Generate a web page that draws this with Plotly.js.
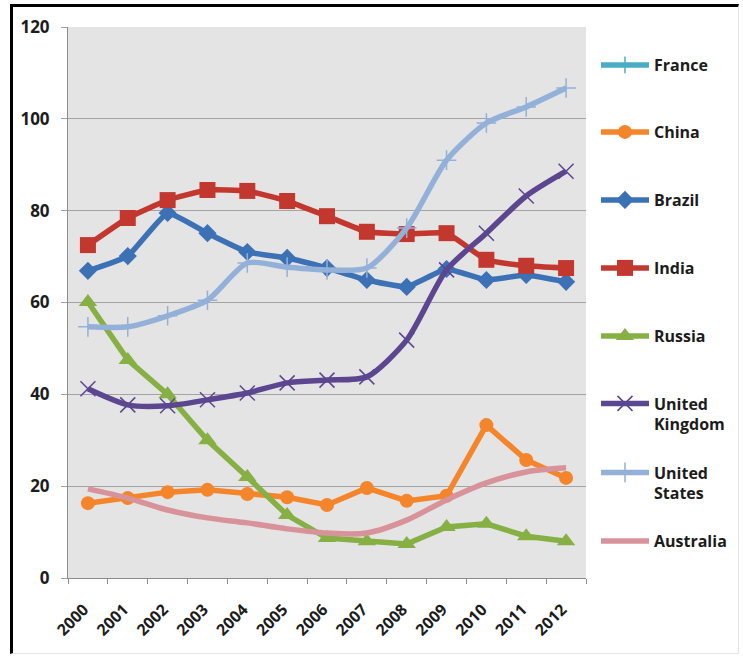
<!DOCTYPE html>
<html>
<head>
<meta charset="utf-8">
<script src="https://cdn.plot.ly/plotly-3.0.1.min.js"></script>
<style>
  html, body { margin: 0; padding: 0; background: #ffffff; }
  #wrap { position: relative; width: 743px; height: 656px; overflow: hidden; }
  #chart { position: absolute; left: 0; top: 0; width: 743px; height: 656px; }
  #frame {
    position: absolute; left: 10px; top: 4px; width: 725px; height: 646px;
    border-left: 3px solid #000; border-top: 3px solid #000;
    border-right: 1px solid #e4e4e4; border-bottom: 1px solid #e4e4e4;
    pointer-events: none;
  }
</style>
</head>
<body>
<div id="wrap">
  <div id="chart"></div>
  <div id="frame"></div>
</div>
<script>
// Years on the category axis
const years = ['2000','2001','2002','2003','2004','2005','2006','2007','2008','2009','2010','2011','2012'];

// Series values per country
const france    = [null,null,null,null,null,null,null,null,null,null,null,null,null];
const china     = [16.3, 17.4, 18.7, 19.2, 18.3, 17.6, 15.9, 19.6, 16.8, 17.9, 33.3, 25.7, 21.8];
const brazil    = [66.9, 70.1, 79.5, 75.1, 71.0, 69.7, 67.5, 64.9, 63.4, 67.3, 64.9, 66.0, 64.5];
const india     = [72.5, 78.4, 82.3, 84.5, 84.3, 82.1, 78.8, 75.4, 74.9, 75.1, 69.3, 68.0, 67.5];
const russia    = [60.1, 47.5, 40.0, 30.0, 22.0, 13.7, 8.7, 8.0, 7.4, 11.1, 11.8, 9.1, 8.0];
const uk        = [41.2, 37.7, 37.5, 38.8, 40.3, 42.5, 43.1, 43.8, 51.8, 67.1, 75.1, 83.2, 88.6];
const us        = [54.7, 54.7, 57.1, 60.5, 68.6, 67.7, 67.1, 67.5, 76.2, 91.0, 99.1, 102.6, 106.7];
const australia = [19.4, 17.4, 14.8, 13.1, 12.0, 10.7, 9.8, 9.8, 12.6, 17.0, 20.7, 23.1, 24.0];

// Legend labels
const names = ['France', 'China', 'Brazil', 'India', 'Russia', 'United<br>Kingdom', 'United<br>States', 'Australia'];

const plotTop = 27, plotBottom = 578;
const toPaperY = px => (plotBottom - px) / (plotBottom - plotTop);

const styles = [
  { color: '#4BACC6', symbol: 'cross-thin', size: 12, lw: 1.5, shape: 'linear' },
  { color: '#F5852A', symbol: 'circle', size: 14, shape: 'linear' },
  { color: '#3D71B6', symbol: 'diamond', size: 14, shape: 'spline', smooth: 0.35 },
  { color: '#C2372E', symbol: 'square', size: 16, shape: 'spline', smooth: 0.4 },
  { color: '#86B043', symbol: 'triangle-up', size: 16, shape: 'linear' },
  { color: '#5D4690', symbol: 'x-thin', size: 15, lw: 1.5, shape: 'spline', smooth: 0.7 },
  { color: '#93B1D8', symbol: 'cross-thin', size: 14, lw: 1.5, shape: 'spline', smooth: 0.7 },
  { color: '#D8929A', symbol: null, shape: 'spline', smooth: 0.9 }
];
const series = [france, china, brazil, india, russia, uk, us, australia];
// vertical pixel centre of each legend entry's text block
const legendCentres = [65, 132, 200, 268, 336, 414, 483, 541];

const font = { family: 'Open Sans, Liberation Sans, sans-serif', size: 16, color: '#1c1c1c', weight: 700 };

const data = series.map((vals, i) => {
  const s = styles[i];
  const line = { color: s.color, width: 5.5, shape: s.shape };
  if (s.shape === 'spline') line.smoothing = s.smooth;
  const tr = {
    type: 'scatter',
    x: years,
    y: vals,
    name: names[i],
    legend: i === 0 ? 'legend' : 'legend' + (i + 1),
    line: line,
    mode: s.symbol ? 'lines+markers' : 'lines',
    cliponaxis: false,
    hoverinfo: 'skip'
  };
  if (s.symbol) {
    tr.marker = { symbol: s.symbol, size: s.size, color: s.color,
                  line: { color: s.color, width: s.lw || 0 } };
  }
  return tr;
});

const layout = {
  width: 743,
  height: 656,
  margin: { l: 68, r: 156, t: plotTop, b: 656 - plotBottom, pad: 0 },
  paper_bgcolor: '#ffffff',
  plot_bgcolor: '#E4E4E4',
  font: font,
  showlegend: true,
  xaxis: {
    type: 'category',
    range: [-0.5, years.length - 0.5],
    tickson: 'boundaries',
    ticks: 'outside',
    ticklen: 5,
    tickcolor: '#8c8c8c',
    tickangle: -45,
    tickfont: { family: font.family, size: 16, color: '#1c1c1c', weight: 700 },
    ticklabelstandoff: 15,
    ticklabelshift: -4,
    showline: true,
    linecolor: '#8c8c8c',
    linewidth: 1,
    showgrid: false,
    fixedrange: true
  },
  yaxis: {
    range: [0, 120],
    dtick: 20,
    ticks: 'outside',
    ticklen: 6,
    tickcolor: '#a0a0a0',
    tickfont: { family: font.family, size: 17, color: '#1c1c1c', weight: 700 },
    showline: true,
    linecolor: '#8c8c8c',
    linewidth: 1,
    showgrid: true,
    gridcolor: '#A3A3A3',
    gridwidth: 1,
    zeroline: false,
    ticklabelstandoff: 8,
    fixedrange: true
  }
};

legendCentres.forEach((c, i) => {
  const key = i === 0 ? 'legend' : 'legend' + (i + 1);
  layout[key] = {
    x: 1.0173,
    xanchor: 'left',
    y: toPaperY(c),
    yanchor: 'middle',
    bgcolor: 'rgba(0,0,0,0)',
    borderwidth: 0,
    valign: 'top',
    itemwidth: 48,
    font: font
  };
});

Plotly.newPlot('chart', data, layout, { displayModeBar: false, staticPlot: true });
</script>
</body>
</html>
